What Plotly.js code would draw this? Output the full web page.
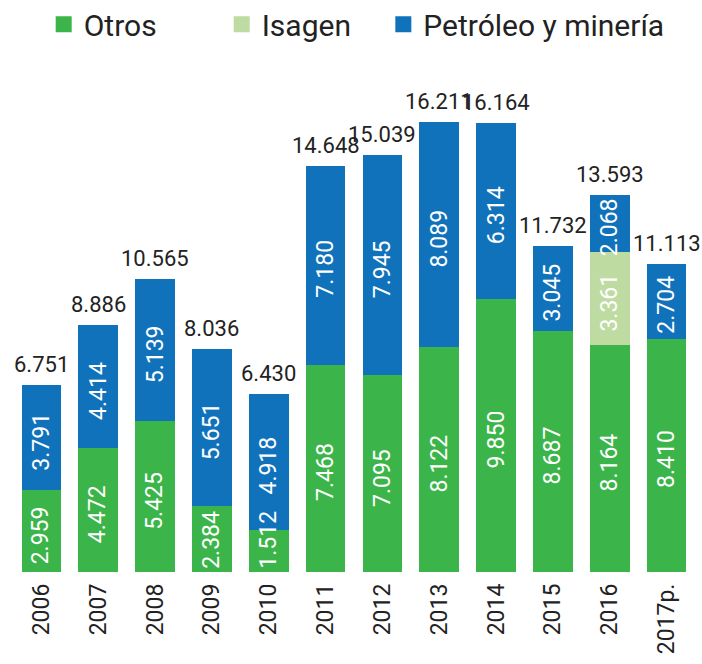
<!DOCTYPE html>
<html>
<head>
<meta charset="utf-8">
<script src="https://cdn.plot.ly/plotly-3.0.1.min.js"></script>
<style>html,body{margin:0;padding:0;background:#fff;}#chart{width:702px;height:664px;}</style>
</head>
<body>
<div id="chart"></div>
<script>
var years = ["2006","2007","2008","2009","2010","2011","2012","2013","2014","2015","2016","2017p."];
var otros = [2.959, 4.472, 5.425, 2.384, 1.512, 7.468, 7.095, 8.122, 9.850, 8.687, 8.164, 8.410];
var isagen = [0, 0, 0, 0, 0, 0, 0, 0, 0, 0, 3.361, 0];
var petroleo = [3.791, 4.414, 5.139, 5.651, 4.918, 7.180, 7.945, 8.089, 6.314, 3.045, 2.068, 2.704];
var totals = [6.751, 8.886, 10.565, 8.036, 6.430, 14.648, 15.039, 16.211, 16.164, 11.732, 13.593, 11.113];

var cGreen = "#3BB54A", cLight = "#BEDBA1", cBlue = "#1172BC";
var fontFam = "Roboto, 'Noto Sans', sans-serif";

function fmt(v){ return v.toFixed(3); }

var traces = [
  {type:"bar", x:years, y:otros, name:"Otros", marker:{color:cGreen}, showlegend:false, hoverinfo:"none"},
  {type:"bar", x:years, y:isagen, name:"Isagen", marker:{color:cLight}, showlegend:false, hoverinfo:"none"},
  {type:"bar", x:years, y:petroleo, name:"Petróleo y minería", marker:{color:cBlue}, showlegend:false, hoverinfo:"none"},
  {type:"scatter", mode:"markers", x:[years[0]], y:[null], name:"Otros", legend:"legend",
    marker:{symbol:"square", size:20, color:cGreen}},
  {type:"scatter", mode:"markers", x:[years[0]], y:[null], name:"Isagen", legend:"legend2",
    marker:{symbol:"square", size:20, color:cLight}},
  {type:"scatter", mode:"markers", x:[years[0]], y:[null], name:"Petróleo y minería", legend:"legend3",
    marker:{symbol:"square", size:20, color:cBlue}}
];

var ann = [];
for (var i = 0; i < years.length; i++) {
  var base = 0;
  var segs = [otros[i], isagen[i], petroleo[i]];
  for (var s = 0; s < segs.length; s++) {
    var v = segs[s];
    if (v > 0) {
      var yc = base + v / 2;
      if (s === 0) yc = Math.max(yc, 1.3);
      ann.push({x: i, y: yc, xref:"x", yref:"y", text: fmt(v), showarrow:false,
        textangle:-90, yshift:-4, font:{family:fontFam, size:23, color:"#ffffff"}});
      base += v;
    }
  }
  ann.push({x: i, y: totals[i], xref:"x", yref:"y", text: fmt(totals[i]), showarrow:false,
    yanchor:"bottom", yshift:6, font:{family:fontFam, size:22, color:"#222222"}});
}

function leg(xpos) {
  return {orientation:"h", x:xpos, xanchor:"left", y:1.07, yanchor:"middle",
    font:{family:fontFam, size:30, color:"#222222"}, bgcolor:"rgba(0,0,0,0)"};
}

var layout = {
  width:702, height:664,
  margin:{l:13, r:7, t:60, b:92, autoexpand:false},
  barmode:"stack",
  bargap:0.3,
  paper_bgcolor:"#ffffff", plot_bgcolor:"#ffffff",
  font:{family:fontFam, color:"#222222"},
  xaxis:{type:"category", categoryorder:"array", categoryarray:years, range:[-0.5, 11.5],
    tickangle:-90, tickfont:{family:fontFam, size:23, color:"#222222"}, ticklabelstandoff:6,
    showline:false, showgrid:false, zeroline:false, ticks:"", fixedrange:true},
  yaxis:{range:[0, 18.45], visible:false, showgrid:false, zeroline:false, fixedrange:true},
  legend: leg(0.045),
  legend2: leg(0.306),
  legend3: leg(0.543),
  annotations: ann,
  showlegend:true
};

Plotly.newPlot("chart", traces, layout, {staticPlot:true, displayModeBar:false});
</script>
</body>
</html>
